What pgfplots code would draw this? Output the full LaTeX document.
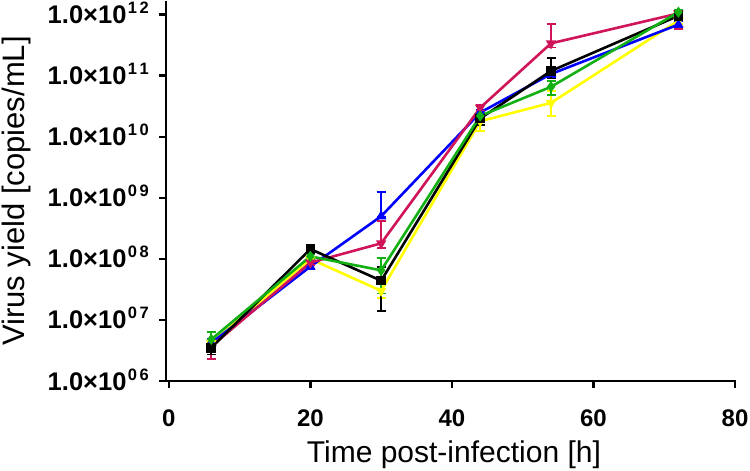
\documentclass[border=0pt]{standalone}
\usepackage{pgfplots}
\pgfplotsset{compat=1.18}
\usepackage{pgfplotstable}
\usepackage{fontspec}
\setmainfont{Liberation Sans}
\definecolor{cyel}{HTML}{FFFF00}
\definecolor{cmag}{HTML}{D0145A}
\definecolor{cgrn}{HTML}{12B012}
\definecolor{cblu}{HTML}{0000FF}
\newcommand{\ylab}[2]{1.0×10\kern1.5bp\raisebox{10bp}{\fontsize{16.5bp}{16.5bp}\selectfont\bfseries #1\kern2.5bp #2}}

\pgfplotstableread{
x y ep em
6 3.5e6 0.8e6 0.8e6
20 1.45e8 0.17e8 0.17e8
30 4.4e7 3.0e7 3.0e7
44 2.0e10 0.4e10 0.45e10
54 1.2e11 0.75e11 0.3e11
72 9.6e11 1.0e11 1.0e11
}\tblack
\pgfplotstableread{
x y ep em
6 4.2e6 0.8e6 0.6e6
20 7.5e7 0.6e7 0.6e7
30 5.0e8 7.6e8 0.1e8
44 2.5e10 0.3e10 0.3e10
54 1.07e11 0.15e11 0.15e11
72 6.9e11 0.8e11 0.8e11
}\tblue
\pgfplotstableread{
x y ep em
6 3.7e6 0.6e6 1.4e6
20 8.7e7 0.8e7 0.8e7
30 1.8e8 2.4e8 0.3e8
44 3.0e10 0.3e10 0.3e10
54 3.4e11 3.7e11 0.5e11
72 1.05e12 0.1e12 4.6e11
}\tmag
\pgfplotstableread{
x y ep em
6 4.8e6 1.5e6 1.5e6
20 1.1e8 0.1e8 0.1e8
30 6.5e7 3.8e7 3.8e7
44 2.2e10 0.3e10 0.3e10
54 6.6e10 1.7e10 1.8e10
72 1.1e12 0.1e12 0.1e12
}\tgrn
\pgfplotstableread{
x y ep em
6 4.2e6 0.8e6 0.8e6
20 1.0e8 0.1e8 0.1e8
30 3.0e7 1.5e7 0.7e7
44 1.8e10 0.3e10 0.55e10
54 3.6e10 2.0e10 1.4e10
72 8.0e11 1.0e11 1.0e11
}\tyel

\pgfplotsset{
  myerr/.style={error bars/.cd, y dir=both, y explicit,
    error bar style={line width=1.6bp},
    error mark options={rotate=90, mark size=4.5bp, line width=1.6bp}},
  axfill/.style={fill=black, draw=none, mark=none, forget plot},
}

\begin{document}
\begin{tikzpicture}
\begin{axis}[
  scale only axis, width=569bp, height=380bp,
  ymode=log,
  xmin=-0.4, xmax=80, ymin=1e6, ymax=1.68e12,
  axis lines*=left,
  axis line style={draw=none},
  xtick={0,20,40,60,80}, xticklabels={0,20,40,60,80},
  ytick={1e6,1e7,1e8,1e9,1e10,1e11,1e12},
  yticklabels={\ylab06,\ylab07,\ylab08,\ylab09,\ylab10,\ylab11,\ylab12},
  yminorticks=false,
  tick align=outside, major tick length=7bp,
  major tick style={draw=none},
  xticklabel style={font=\fontsize{24bp}{24bp}\selectfont\bfseries, anchor=base, inner sep=0pt, yshift=-38.7bp},
  yticklabel style={font=\fontsize{25.5bp}{25.5bp}\selectfont\bfseries, anchor=base east, inner sep=0pt, yshift=-9bp, xshift=-10bp},
  every axis x label/.style={at={(rel axis cs:0.506,-0.2132)}, anchor=base, font=\fontsize{30bp}{30bp}\selectfont},
  every axis y label/.style={at={(rel axis cs:-0.2636,0.5)}, rotate=90, anchor=center, font=\fontsize{31bp}{31bp}\selectfont},
  xlabel={Time post-infection [h]},
  ylabel={Virus yield [copies/mL]},
  clip=false,
]
\path (rel axis cs:0,0) ++(-166bp,-89bp) coordinate (bbl);
\path (rel axis cs:1,1) ++(15bp,1bp) coordinate (btr);
% axis lines and ticks as thin filled bars
\addplot[axfill] coordinates {(-0.584,9.52e5) (-0.216,9.52e5) (-0.216,1.68e12) (-0.584,1.68e12)};
\addplot[axfill] coordinates {(-0.584,9.52e5) (80.184,9.52e5) (80.184,1.05e6) (-0.584,1.05e6)};
\addplot[axfill] coordinates {(-0.184,1e6) (0.184,1e6) (0.184,7.68e5) (-0.184,7.68e5)};
\addplot[axfill] coordinates {(19.816,1e6) (20.184,1e6) (20.184,7.68e5) (19.816,7.68e5)};
\addplot[axfill] coordinates {(39.816,1e6) (40.184,1e6) (40.184,7.68e5) (39.816,7.68e5)};
\addplot[axfill] coordinates {(59.816,1e6) (60.184,1e6) (60.184,7.68e5) (59.816,7.68e5)};
\addplot[axfill] coordinates {(79.816,1e6) (80.184,1e6) (80.184,7.68e5) (79.816,7.68e5)};
\addplot[axfill] coordinates {(-1.39,9.52e5) (-0.4,9.52e5) (-0.4,1.05e6) (-1.39,1.05e6)};
\addplot[axfill] coordinates {(-1.39,9.52e6) (-0.4,9.52e6) (-0.4,1.05e7) (-1.39,1.05e7)};
\addplot[axfill] coordinates {(-1.39,9.52e7) (-0.4,9.52e7) (-0.4,1.05e8) (-1.39,1.05e8)};
\addplot[axfill] coordinates {(-1.39,9.52e8) (-0.4,9.52e8) (-0.4,1.05e9) (-1.39,1.05e9)};
\addplot[axfill] coordinates {(-1.39,9.52e9) (-0.4,9.52e9) (-0.4,1.05e10) (-1.39,1.05e10)};
\addplot[axfill] coordinates {(-1.39,9.52e10) (-0.4,9.52e10) (-0.4,1.05e11) (-1.39,1.05e11)};
\addplot[axfill] coordinates {(-1.39,9.52e11) (-0.4,9.52e11) (-0.4,1.05e12) (-1.39,1.05e12)};
% data
\addplot[cyel, line width=2.6bp, mark size=3.5bp, mark=triangle*, mark options={rotate=180, fill=cyel}, myerr] table[x=x, y=y, y error plus=ep, y error minus=em] {\tyel};
\addplot[cblu, line width=2.6bp, mark size=3.5bp, mark=triangle*, mark options={fill=cblu}, myerr] table[x=x, y=y, y error plus=ep, y error minus=em] {\tblue};
\addplot[cmag, line width=2.6bp, mark size=3.5bp, mark=triangle*, mark options={rotate=180, fill=cmag}, myerr] table[x=x, y=y, y error plus=ep, y error minus=em] {\tmag};
\addplot[black, line width=2.6bp, mark size=3.5bp, mark=square*, mark options={fill=black}, myerr] table[x=x, y=y, y error plus=ep, y error minus=em] {\tblack};
\addplot[cgrn, line width=2.6bp, mark size=3.5bp, mark=diamond*, mark options={fill=cgrn}, myerr] table[x=x, y=y, y error plus=ep, y error minus=em] {\tgrn};
\end{axis}
\pgfresetboundingbox
\path[use as bounding box] (bbl) rectangle (btr);
\end{tikzpicture}
\end{document}
